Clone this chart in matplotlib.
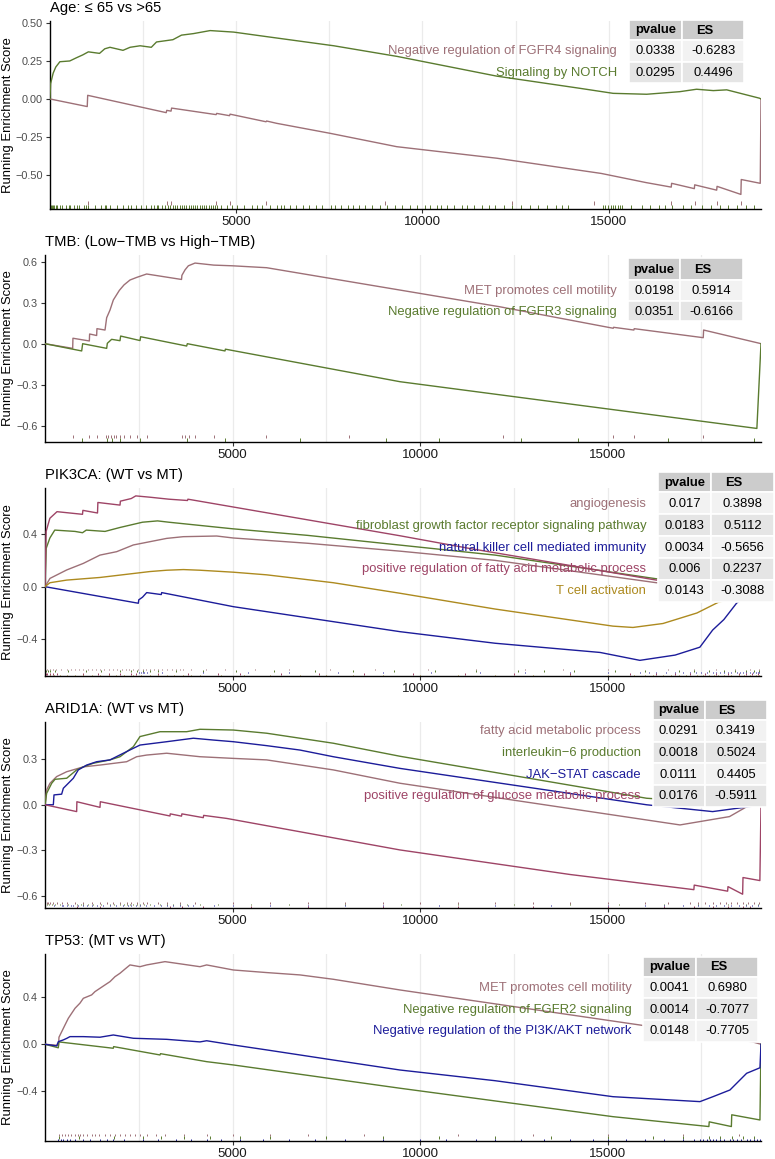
import matplotlib
matplotlib.use('Agg')
import matplotlib.pyplot as plt
from matplotlib.patches import Rectangle
from matplotlib.transforms import blended_transform_factory

plt.rcParams['font.family'] = ['Liberation Sans', 'DejaVu Sans']

W, H = 775, 1159
N_GENES = 19090

# ---- panel 1: Age --------------------------------------------------------
age_title = 'Age: \u2264 65 vs >65'
age_sets = ['Negative regulation of FGFR4 signaling', 'Signaling by NOTCH']
age_pvalue = ['0.0338', '0.0295']
age_es = ['-0.6283', '0.4496']
age_fgfr4_x = [0, 1000, 1012, 3120, 3135, 3250, 3265, 4460, 4475, 4820, 4835, 5800, 5815, 6080, 7520,
               9310, 12000, 14800, 16000, 16680, 16690, 17300, 17310, 17900, 17910, 18550, 18560, 19070, 19090]
age_fgfr4_y = [0, -0.05, 0.024, -0.09, -0.075, -0.08, -0.06, -0.103, -0.095, -0.11, -0.10, -0.15, -0.145, -0.16,
               -0.226, -0.314, -0.39, -0.49, -0.55, -0.58, -0.555, -0.59, -0.565, -0.60, -0.575, -0.628, -0.53,
               -0.555, 0]
age_notch_x = [0, 15, 85, 155, 265, 530, 700, 880, 1030, 1330, 1470, 1610, 1960, 2150, 2420, 2720, 2860, 3300,
               3530, 3850, 4300, 4930, 5820, 6720, 7620, 9320, 12000, 14230, 15120, 16020, 16910, 17360, 17810,
               18170, 19050, 19090]
age_notch_y = [0, 0.10, 0.17, 0.21, 0.245, 0.25, 0.27, 0.29, 0.31, 0.30, 0.33, 0.34, 0.32, 0.34, 0.35, 0.34, 0.375,
               0.39, 0.42, 0.43, 0.45, 0.44, 0.41, 0.38, 0.35, 0.28, 0.15, 0.07, 0.037, 0.031, 0.048, 0.064, 0.055,
               0.06, 0.005, 0]
age_fgfr4_hits = [1012, 3130, 3260, 4470, 4830, 5810, 9000, 12400, 14600, 16685, 17305, 17905, 18555, 19080]
age_notch_hits = [20, 50, 90, 120, 160, 183, 270, 316, 420, 514, 545, 640, 720, 780, 900, 979, 1030, 1200, 1376,
                  1480, 1509, 1620, 1800, 1973, 2100, 2172, 2300, 2437, 2570, 2702, 2800, 2870, 2901, 3000, 3100,
                  3180, 3233, 3300, 3360, 3420, 3480, 3540, 3600, 3660, 3720, 3780, 3850, 3900, 3960, 4020, 4080,
                  4140, 4200, 4260, 4320, 4380, 4440, 4490, 4600, 4758, 4900, 5023, 5200, 5421, 5550, 5686, 5900,
                  6084, 6200, 6283, 6450, 6614, 6800, 6946, 7144, 7300, 7542, 7650, 7807, 8000, 8139, 8300, 8470,
                  8650, 8868, 9050, 9266, 9450, 9664, 9850, 10062, 10200, 10393, 10500, 10658, 10850, 11056, 11200,
                  11390, 11600, 11786, 11950, 12184, 12400, 12647, 12900, 13111, 13350, 13575, 13750, 13910, 14840,
                  14900, 14980, 15050, 15110, 15180, 15240, 15300, 15370, 15600, 15896, 16100, 16360, 16500, 16692,
                  17000, 17222, 17500, 17753, 18000, 18217, 18450, 18681, 18900]

# ---- panel 2: TMB --------------------------------------------------------
tmb_title = 'TMB: (Low\u2212TMB vs High\u2212TMB)'
tmb_sets = ['MET promotes cell motility', 'Negative regulation of FGFR3 signaling']
tmb_pvalue = ['0.0198', '0.0351']
tmb_es = ['0.5914', '-0.6166']
tmb_met_x = [0, 738, 745, 1182, 1190, 1377, 1385, 1600, 1644, 1733, 1822, 1982, 2106, 2266, 2444, 2710, 3640, 3650,
             3733, 3822, 4000, 4500, 5000, 5910, 8930, 12130, 15150, 15160, 15700, 15710, 17550, 17560, 19050, 19090]
tmb_met_y = [0, -0.034, 0.04, 0.02, 0.071, 0.06, 0.11, 0.10, 0.19, 0.246, 0.32, 0.39, 0.43, 0.466, 0.485, 0.51,
             0.47, 0.50, 0.54, 0.57, 0.59, 0.575, 0.57, 0.556, 0.417, 0.27, 0.113, 0.12, 0.10, 0.11, 0.044, 0.10,
             0.003, 0]
tmb_fgfr3_x = [0, 978, 1004, 1644, 1662, 1777, 1999, 2017, 2533, 2550, 3777, 3795, 4799, 4810, 9464, 14800, 18980,
               19090]
tmb_fgfr3_y = [0, -0.053, 0, -0.034, 0.003, 0.032, 0.022, 0.056, 0.023, 0.051, -0.017, 0, -0.053, -0.04, -0.278,
               -0.47, -0.62, 0]
tmb_met_hits = [740, 1186, 1381, 1620, 1690, 1760, 1840, 1900, 1990, 2110, 2270, 2450, 2720, 3645, 3740, 3830,
                4010, 4500, 5900, 8100, 12200, 15155, 15705, 17555]
tmb_fgfr3_hits = [990, 1650, 1780, 2010, 2540, 3785, 4805, 6800, 9100, 10500, 12700, 14200, 16600, 18900, 19085]

# ---- panel 3: PIK3CA -----------------------------------------------------
pik_title = 'PIK3CA: (WT vs MT)'
pik_sets = ['angiogenesis', 'fibroblast growth factor receptor signaling pathway',
            'natural killer cell mediated immunity', 'positive regulation of fatty acid metabolic process',
            'T cell activation']
pik_pvalue = ['0.017', '0.0183', '0.0034', '0.006', '0.0143']
pik_es = ['0.3898', '0.5112', '-0.5656', '0.2237', '-0.3088']
pik_angio_x = [0, 133, 578, 1022, 1466, 1911, 2355, 2799, 3244, 3688, 4577, 5021, 7000, 9464, 12000, 16300, 18500,
               19090]
pik_angio_y = [0, 0.063, 0.127, 0.177, 0.24, 0.266, 0.317, 0.342, 0.367, 0.38, 0.385, 0.37, 0.33, 0.27, 0.2, 0.03,
               0.02, 0]
pik_fgf_x = [0, 30, 130, 260, 800, 1000, 1100, 1600, 2000, 2600, 3000, 3300, 5000, 7000, 9000, 12000, 16300, 18500,
             19090]
pik_fgf_y = [0, 0.29, 0.37, 0.43, 0.42, 0.41, 0.43, 0.42, 0.45, 0.49, 0.50, 0.49, 0.44, 0.39, 0.33, 0.24, 0.06, 0.03,
             0]
pik_nk_x = [0, 2488, 2500, 2600, 2711, 3100, 3111, 5021, 9464, 12000, 14800, 15860, 16800, 17460, 17800, 18100,
            18440, 18800, 19090]
pik_nk_y = [0, -0.126, -0.10, -0.08, -0.045, -0.06, -0.045, -0.152, -0.342, -0.43, -0.50, -0.56, -0.52, -0.46,
            -0.33, -0.25, -0.125, -0.05, 0]
pik_fatty_x = [0, 30, 130, 320, 1000, 1010, 1400, 1410, 2000, 2010, 2300, 2420, 2800, 3300, 3800, 3810, 9464, 11330,
               16300, 18500, 19090]
pik_fatty_y = [0, 0.42, 0.52, 0.57, 0.55, 0.58, 0.56, 0.64, 0.62, 0.65, 0.67, 0.69, 0.68, 0.665, 0.655, 0.665,
               0.387, 0.29, 0.05, 0.03, 0]
pik_tcell_x = [0, 133, 578, 1466, 2355, 2799, 3244, 3688, 4132, 5021, 5910, 7686, 9464, 12000, 15143, 15676, 16476,
               17382, 17942, 18800, 19090]
pik_tcell_y = [0, 0.03, 0.05, 0.07, 0.10, 0.115, 0.125, 0.13, 0.125, 0.11, 0.09, 0.03, -0.05, -0.17, -0.30, -0.31,
               -0.28, -0.20, -0.12, -0.05, 0]
pik_angio_hits = [60, 133, 220, 300, 420, 578, 700, 800, 900, 1022, 1150, 1250, 1350, 1466, 1580, 1700, 1800, 1911,
                  2050, 2150, 2250, 2355, 2480, 2600, 2700, 2799, 2900, 3000, 3120, 3244, 3380, 3500, 3600, 3688,
                  3900, 4300, 4800, 5600, 6500, 7600, 8800, 10200, 11500, 12800, 13800, 15000, 16600, 17300, 17900,
                  18400, 18800, 19050]
pik_fgf_hits = [30, 80, 130, 260, 600, 1100, 1500, 2000, 2300, 2450, 2600, 2800, 3000, 3500, 4200, 5100, 6100, 7200,
                8200, 9300, 10400, 11500, 12600, 13300, 14100, 15200, 16000, 16900, 17300, 17700, 18100, 18400,
                18700, 18900, 19050]
pik_nk_hits = [2500, 2550, 2600, 2650, 2711, 3111, 4200, 5400, 6500, 7800, 9000, 10300, 11600, 12800, 14000, 15000,
               15860, 16100, 16300, 16550, 16800, 17000, 17200, 17350, 17500, 17650, 17800, 17900, 18000, 18100,
               18200, 18300, 18440, 18520, 18600, 18700, 18800, 18880, 18950, 19000, 19050]
pik_fatty_hits = [30, 60, 130, 200, 320, 1010, 1410, 1700, 2010, 2300, 2420, 3000, 3810, 4600, 5200, 6300, 7300,
                  8500, 9800, 11200, 12500, 14000, 15600, 16300, 16800, 17200, 17600, 17900, 18200, 18500, 18700,
                  18850, 19000]
pik_tcell_hits = [133, 250, 400, 578, 800, 1000, 1250, 1466, 1700, 1900, 2100, 2355, 2550, 2799, 3000, 3244, 3450,
                  3688, 3900, 4132, 4700, 5300, 6000, 6800, 7500, 8200, 9000, 10000, 11000, 12000, 13000, 14000,
                  15000, 15700, 16000, 16200, 16476, 16700, 16900, 17100, 17382, 17550, 17700, 17850, 17942, 18100,
                  18300, 18500, 18650, 18800, 18950, 19050]

# ---- panel 4: ARID1A -----------------------------------------------------
arid_title = 'ARID1A: (WT vs MT)'
arid_sets = ['fatty acid metabolic process', 'interleukin\u22126 production', 'JAK\u2212STAT cascade',
             'positive regulation of glucose metabolic process']
arid_pvalue = ['0.0291', '0.0018', '0.0111', '0.0176']
arid_es = ['0.3419', '0.5024', '0.4405', '-0.5911']
arid_fatty_x = [0, 44, 133, 311, 578, 1022, 1466, 2177, 2444, 2711, 3244, 4132, 5021, 5910, 7686, 9464, 16930,
                18250, 18800, 19090]
arid_fatty_y = [0, 0.098, 0.142, 0.186, 0.218, 0.25, 0.262, 0.284, 0.317, 0.328, 0.34, 0.317, 0.306, 0.296, 0.23,
                0.142, -0.133, -0.078, 0, 0]
arid_il6_x = [0, 44, 179, 267, 578, 844, 1022, 1288, 1733, 1999, 2177, 2355, 2533, 3066, 3777, 4132, 5021, 5910,
              6798, 7686, 9464, 16040, 17500, 19090]
arid_il6_y = [0, 0.076, 0.142, 0.168, 0.175, 0.23, 0.25, 0.274, 0.296, 0.317, 0.35, 0.383, 0.45, 0.482, 0.482,
              0.498, 0.493, 0.472, 0.439, 0.406, 0.32, 0.043, 0.02, 0]
arid_jak_x = [0, 222, 240, 444, 489, 578, 755, 888, 1111, 1377, 1733, 2088, 2533, 3244, 3955, 4488, 5021, 5910,
              6798, 7686, 9464, 16040, 17800, 18700, 19090]
arid_jak_y = [0, 0, 0.065, 0.07, 0.109, 0.131, 0.175, 0.23, 0.262, 0.284, 0.296, 0.34, 0.394, 0.416, 0.439, 0.427,
              0.416, 0.39, 0.361, 0.317, 0.24, 0.0, -0.045, -0.015, 0]
arid_gluc_x = [0, 844, 850, 1466, 1475, 3332, 3340, 3640, 3650, 4220, 4230, 4843, 9464, 14000, 17300, 17310, 18200,
               18210, 18600, 18610, 19060, 19090]
arid_gluc_y = [0, -0.045, 0.02, -0.017, 0.02, -0.074, -0.06, -0.075, -0.06, -0.085, -0.07, -0.09, -0.298, -0.46,
               -0.56, -0.53, -0.57, -0.54, -0.59, -0.48, -0.50, 0]
arid_fatty_hits = [44, 90, 133, 220, 311, 450, 578, 800, 1022, 1250, 1466, 1650, 1800, 2000, 2177, 2300, 2444, 2600,
                   2711, 3000, 3244, 3600, 4000, 5000, 6000, 7000, 8000, 9000, 10000, 11000, 12000, 13000, 14000,
                   15000, 16000, 16600, 17200, 17400, 17600, 17800, 18000, 18150, 18300, 18450, 18600, 18750, 18900,
                   19050]
arid_il6_hits = [44, 100, 179, 267, 400, 600, 844, 950, 1022, 1150, 1288, 1500, 1733, 1850, 1999, 2100, 2177, 2260,
                 2355, 2450, 2533, 2650, 2800, 3066, 3250, 3400, 3600, 3777, 4132, 4600, 5500, 6500, 8000, 9500,
                 11000, 12500, 14000, 15300, 16500, 17400, 18200, 18700, 19000]
arid_jak_hits = [240, 444, 489, 578, 680, 755, 888, 1000, 1111, 1250, 1377, 1550, 1733, 1900, 2088, 2200, 2300,
                 2420, 2533, 2700, 2900, 3100, 3244, 3400, 3600, 3800, 3955, 4500, 5000, 6000, 7000, 8000, 9000,
                 10500, 12000, 13500, 15000, 16000, 16500, 17000, 17400, 17700, 17900, 18100, 18300, 18500, 18700,
                 18850, 19000]
arid_gluc_hits = [847, 1470, 3336, 3645, 4225, 5500, 7000, 9000, 11000, 13000, 15000, 16500, 17305, 17800, 18205,
                  18605, 18800, 19080]

# ---- panel 5: TP53 -------------------------------------------------------
tp53_title = 'TP53: (MT vs WT)'
tp53_sets = ['MET promotes cell motility', 'Negative regulation of FGFR2 signaling',
             'Negative regulation of the PI3K/AKT network']
tp53_pvalue = ['0.0041', '0.0014', '0.0148']
tp53_es = ['0.6980', '-0.7077', '-0.7705']
tp53_met_x = [0, 360, 373, 533, 622, 800, 933, 1022, 1244, 1333, 1600, 1733, 1866, 1999, 2133, 2266, 2533, 2710,
              3199, 4132, 4310, 5021, 5910, 6798, 7686, 9464, 15860, 18870, 19090]
tp53_met_y = [0, -0.01, 0.06, 0.164, 0.221, 0.306, 0.35, 0.391, 0.42, 0.448, 0.505, 0.533, 0.575, 0.604, 0.64,
              0.675, 0.66, 0.675, 0.703, 0.66, 0.675, 0.632, 0.61, 0.59, 0.553, 0.462, 0.164, 0.02, 0]
tp53_fgfr2_x = [0, 355, 370, 1820, 1830, 3066, 3080, 4310, 5021, 9464, 15143, 17700, 17710, 18300, 18310, 19062,
                19090]
tp53_fgfr2_y = [0, -0.03, 0.02, -0.034, -0.02, -0.091, -0.08, -0.148, -0.176, -0.374, -0.616, -0.70, -0.66, -0.70,
                -0.60, -0.644, 0]
tp53_pi3k_x = [0, 311, 355, 488, 578, 666, 1022, 1466, 1822, 2355, 3244, 4132, 4310, 5021, 5910, 6798, 7686, 9464,
               12000, 15143, 17462, 17809, 18262, 18707, 19062, 19090]
tp53_pi3k_y = [0, -0.014, 0.022, 0.037, 0.05, 0.065, 0.065, 0.06, 0.079, 0.051, 0.042, 0.02, 0.03, -0.006, -0.048,
               -0.091, -0.134, -0.219, -0.31, -0.446, -0.488, -0.446, -0.389, -0.247, -0.2, 0]
tp53_met_hits = [373, 450, 533, 622, 700, 800, 870, 933, 1022, 1130, 1244, 1333, 1450, 1600, 1733, 1866, 1999,
                 2133, 2266, 2400, 2533, 2710, 2950, 3199, 3700, 4310, 5000, 6000, 7000, 8500, 11000, 13000, 15000,
                 17000, 18500, 19080]
tp53_fgfr2_hits = [370, 900, 1830, 2600, 3080, 3700, 4400, 5200, 6000, 7500, 9000, 10500, 12000, 13500, 15000,
                   16200, 17000, 17710, 18000, 18310, 18600, 18900, 19085]
tp53_pi3k_hits = [355, 420, 488, 578, 666, 800, 1022, 1200, 1466, 1650, 1822, 2100, 2600, 3000, 3500, 3900, 4310,
                  4700, 5200, 5800, 6500, 7200, 8000, 9000, 10000, 10700, 11500, 12000, 12700, 13300, 14000, 14600,
                  15000, 15500, 16000, 16500, 17000, 17300, 17462, 17550, 17650, 17730, 17809, 17900, 18000, 18100,
                  18262, 18350, 18450, 18550, 18707, 18800, 18900, 18980, 19062, 19085]

# ---- colours / layout ----------------------------------------------------
MAUVE = '#9D7077'
GREEN = '#5A7B2F'
BLUE = '#1C1C9A'
CRIMSON = '#9E4466'
GOLD = '#AD8A1F'

# each panel: axes box in px (left, top, right, bottom), ylim, yticks, tick format, rug band height in px,
# table box in px (left, mid, right, top, header height, row height)
panels = [
    dict(title=age_title, sets=age_sets, pvalue=age_pvalue, es=age_es,
         curves=[(age_fgfr4_x, age_fgfr4_y), (age_notch_x, age_notch_y)],
         hits=[age_fgfr4_hits, age_notch_hits], colors=[MAUVE, GREEN],
         box=(50, 21, 761, 209), ylim=(-0.724, 0.513), yticks=[-0.5, -0.25, 0, 0.25, 0.5], fmt='{:.2f}',
         band=4.0, table=(629, 682, 744, 20, 20, 21.5)),
    dict(title=tmb_title, sets=tmb_sets, pvalue=tmb_pvalue, es=tmb_es,
         curves=[(tmb_met_x, tmb_met_y), (tmb_fgfr3_x, tmb_fgfr3_y)],
         hits=[tmb_met_hits, tmb_fgfr3_hits], colors=[MAUVE, GREEN],
         box=(45, 255, 761, 441.7), ylim=(-0.717, 0.649), yticks=[-0.6, -0.3, 0, 0.3, 0.6], fmt='{:.1f}',
         band=3.5, table=(628.3, 680, 742.7, 258.3, 21.7, 20.7)),
    dict(title=pik_title, sets=pik_sets, pvalue=pik_pvalue, es=pik_es,
         curves=[(pik_angio_x, pik_angio_y), (pik_fgf_x, pik_fgf_y), (pik_nk_x, pik_nk_y),
                 (pik_fatty_x, pik_fatty_y), (pik_tcell_x, pik_tcell_y)],
         hits=[pik_angio_hits, pik_fgf_hits, pik_nk_hits, pik_fatty_hits, pik_tcell_hits],
         colors=[MAUVE, GREEN, BLUE, CRIMSON, GOLD],
         box=(45, 488, 761, 676), ylim=(-0.679, 0.75), yticks=[-0.4, 0, 0.4], fmt='{:.1f}',
         band=1.5, table=(658.3, 711, 774, 472.3, 20, 21.9)),
    dict(title=arid_title, sets=arid_sets, pvalue=arid_pvalue, es=arid_es,
         curves=[(arid_fatty_x, arid_fatty_y), (arid_il6_x, arid_il6_y), (arid_jak_x, arid_jak_y),
                 (arid_gluc_x, arid_gluc_y)],
         hits=[arid_fatty_hits, arid_il6_hits, arid_jak_hits, arid_gluc_hits],
         colors=[MAUVE, GREEN, BLUE, CRIMSON],
         box=(45, 721.7, 761, 907.7), ylim=(-0.679, 0.548), yticks=[-0.6, -0.3, 0, 0.3], fmt='{:.1f}',
         band=1.4, table=(652.7, 705, 766.7, 700, 20, 21.7)),
    dict(title=tp53_title, sets=tp53_sets, pvalue=tp53_pvalue, es=tp53_es,
         curves=[(tp53_met_x, tp53_met_y), (tp53_fgfr2_x, tp53_fgfr2_y), (tp53_pi3k_x, tp53_pi3k_y)],
         hits=[tp53_met_hits, tp53_fgfr2_hits, tp53_pi3k_hits], colors=[MAUVE, GREEN, BLUE],
         box=(45, 954, 761, 1141), ylim=(-0.823, 0.768), yticks=[-0.4, 0, 0.4], fmt='{:.1f}',
         band=2.3, table=(643.3, 696, 758.3, 956.7, 20, 21.7)),
]

fig = plt.figure(figsize=(W / 100, H / 100), dpi=100)

for p in panels:
    left, top, right, bottom = p['box']
    ax = fig.add_axes([left / W, 1 - bottom / H, (right - left) / W, (bottom - top) / H])
    ax.set_xlim(0, N_GENES)
    ax.set_ylim(*p['ylim'])
    for g in range(2500, N_GENES, 2500):
        ax.axvline(g, color='#EBEBEB', lw=0.9, zorder=0)
    for (xs, ys), c in zip(p['curves'], p['colors']):
        ax.plot(xs, ys, color=c, lw=1.0, zorder=3)
    # rug of gene-set hits along the bottom, one thin band per set (last set lowest)
    tr = blended_transform_factory(ax.transData, ax.transAxes)
    b = p['band'] / (bottom - top)
    nsets = len(p['hits'])
    for i, (hits, c) in enumerate(zip(p['hits'], p['colors'])):
        y0 = (nsets - 1 - i) * b
        ax.vlines(hits, y0, y0 + b, colors=c, lw=0.7, transform=tr, zorder=2)
    for s in ('top', 'right'):
        ax.spines[s].set_visible(False)
    for s in ('left', 'bottom'):
        ax.spines[s].set_linewidth(1.0)
        ax.spines[s].set_color('black')
    ax.set_yticks(p['yticks'])
    ax.set_yticklabels([p['fmt'].format(v).replace('-', '\u2212') for v in p['yticks']])
    ax.set_xticks([5000, 10000, 15000])
    ax.set_xticklabels(['5000', '10000', '15000'])
    ax.tick_params(axis='y', labelsize=7.8, labelcolor='#4D4D4D', length=3, width=0.8, color='#333333', pad=2)
    ax.tick_params(axis='x', labelsize=9.6, labelcolor='#1A1A1A', length=3, width=0.8, color='#333333', pad=2)
    ax.set_ylabel('Running Enrichment Score', fontsize=9.4)
    ax.yaxis.set_label_coords((14.5 - left) / (right - left), 0.5)
    ax.set_title(p['title'], loc='left', fontsize=10.6, pad=6.5)

# tables and coloured gene-set labels, drawn in pixel coordinates on top
ov = fig.add_axes([0, 0, 1, 1], zorder=10)
ov.set_xlim(0, W)
ov.set_ylim(H, 0)
ov.axis('off')
for p in panels:
    tl, tm, tr_, tt, hh, rh = p['table']
    ov.add_patch(Rectangle((tl, tt), tm - tl, hh, facecolor='#CCCCCC', edgecolor='white', lw=1.2))
    ov.add_patch(Rectangle((tm, tt), tr_ - tm, hh, facecolor='#CCCCCC', edgecolor='white', lw=1.2))
    ov.text((tl + tm) / 2, tt + hh / 2 + 0.5, 'pvalue', fontsize=9.4, fontweight='bold', ha='center', va='center')
    ov.text(tm + 0.36 * (tr_ - tm), tt + hh / 2 + 0.5, 'ES', fontsize=9.4, fontweight='bold', ha='center',
            va='center')
    for i, (name, pv, es, c) in enumerate(zip(p['sets'], p['pvalue'], p['es'], p['colors'])):
        y = tt + hh + i * rh
        fill = '#F2F2F2' if i % 2 == 0 else '#E5E5E5'
        ov.add_patch(Rectangle((tl, y), tm - tl, rh, facecolor=fill, edgecolor='white', lw=1.2))
        ov.add_patch(Rectangle((tm, y), tr_ - tm, rh, facecolor=fill, edgecolor='white', lw=1.2))
        ov.text((tl + tm) / 2, y + rh / 2 + 0.5, pv, fontsize=9.4, ha='center', va='center')
        ov.text((tm + tr_) / 2, y + rh / 2 + 0.5, es, fontsize=9.4, ha='center', va='center')
        ov.text(tl - 12, y + rh / 2 + 0.5, name, fontsize=9.4, color=c, ha='right', va='center')

fig.savefig('out.png', dpi=100)
